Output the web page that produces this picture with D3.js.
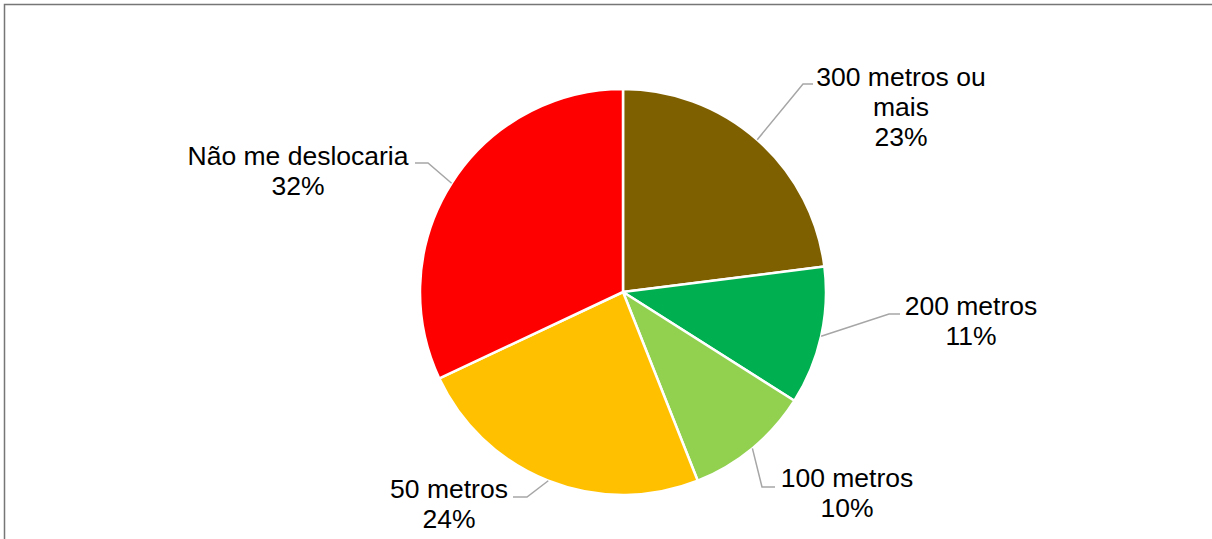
<!DOCTYPE html>
<html>
<head>
<meta charset="utf-8">
<script src="https://cdn.jsdelivr.net/npm/d3@7"></script>
<style>
  html, body { margin: 0; padding: 0; background: #fff; }
  svg { display: block; font-family: "Liberation Sans", Arial, sans-serif; }
</style>
</head>
<body>
<div id="chart"></div>
<script>
// ── Data (clockwise from 12 o'clock) ──
const categories = ['300 metros ou mais', '200 metros', '100 metros', '50 metros', 'Não me deslocaria'];
const shares = [23, 11, 10, 24, 32];
const labelLines = [
  ['300 metros ou', 'mais', '23%'],
  ['200 metros', '11%'],
  ['100 metros', '10%'],
  ['50 metros', '24%'],
  ['Não me deslocaria', '32%']
];
const sliceColors = ['#7F6000', '#00B050', '#92D050', '#FFC000', '#FF0000'];

// ── Layout ──
const W = 1212, H = 539;
const CX = 623, CY = 292, R = 203;
const FONT = 26.5, LINE = 30;
// label block: centre x, first baseline; leader: elbow then end point
const labelLayout = [
  { x: 901, y: 86,  elbow: [803, 84],  end: [813, 84] },
  { x: 971, y: 315, elbow: [889, 314], end: [900, 314] },
  { x: 847, y: 487, elbow: [762, 487], end: [775, 487] },
  { x: 449, y: 498, elbow: [527, 497], end: [513, 497] },
  { x: 298, y: 165, elbow: [428, 163], end: [415, 163] }
];

const svg = d3.select('#chart').append('svg')
  .attr('width', W)
  .attr('height', H);

// chart frame (top and left edges visible)
svg.append('path')
  .attr('d', `M4.5,${H} V4.5 H${W}`)
  .attr('fill', 'none')
  .attr('stroke', '#767676')
  .attr('stroke-width', 1.5);

const data = categories.map((c, i) => ({ name: c, value: shares[i], i }));

const pie = d3.pie().sort(null).value(d => d.value);
const arc = d3.arc().innerRadius(0).outerRadius(R);
const arcs = pie(data);

const g = svg.append('g').attr('transform', `translate(${CX},${CY})`);

g.selectAll('path.slice')
  .data(arcs)
  .enter()
  .append('path')
  .attr('class', 'slice')
  .attr('d', arc)
  .attr('fill', d => sliceColors[d.data.i])
  .attr('stroke', '#fff')
  .attr('stroke-width', 2.5)
  .attr('stroke-linejoin', 'round');

// ── Leader lines ──
svg.selectAll('polyline.leader')
  .data(arcs)
  .enter()
  .append('polyline')
  .attr('class', 'leader')
  .attr('points', d => {
    const mid = (d.startAngle + d.endAngle) / 2;
    const sx = CX + R * Math.sin(mid);
    const sy = CY - R * Math.cos(mid);
    const L = labelLayout[d.data.i];
    return [[sx, sy], L.elbow, L.end].map(p => p.join(',')).join(' ');
  })
  .attr('fill', 'none')
  .attr('stroke', '#A6A6A6')
  .attr('stroke-width', 1.5);

// ── Labels ──
const labels = svg.selectAll('text.label')
  .data(arcs)
  .enter()
  .append('text')
  .attr('class', 'label')
  .attr('text-anchor', 'middle')
  .attr('font-size', FONT + 'px')
  .attr('fill', '#000');

labels.each(function (d) {
  const L = labelLayout[d.data.i];
  d3.select(this).selectAll('tspan')
    .data(labelLines[d.data.i])
    .enter()
    .append('tspan')
    .attr('x', L.x)
    .attr('y', (t, k) => L.y + k * LINE)
    .text(t => t);
});
</script>
</body>
</html>
